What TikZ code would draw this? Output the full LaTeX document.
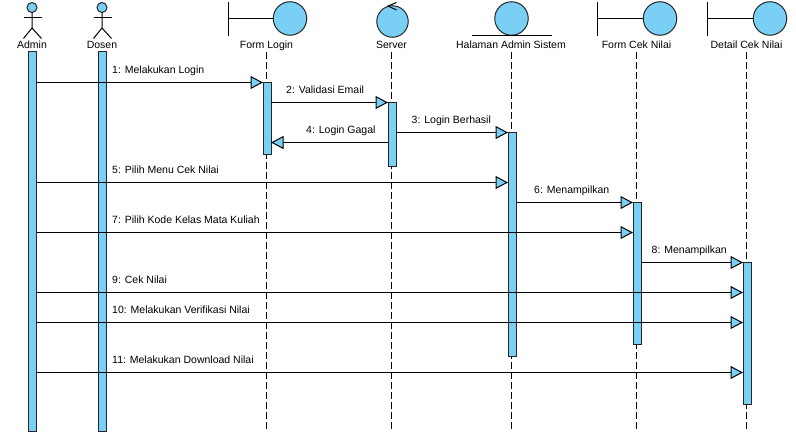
\documentclass[tikz,border=0pt]{standalone}
\usepackage{fontspec}
\setmainfont{Liberation Sans}
\usetikzlibrary{arrows.meta}
\definecolor{barblue}{HTML}{7ACFF5}
\tikzset{
	stroke/.style={line width=1pt, color=black},
	ball/.style={draw=black!85, line width=1pt, fill=barblue, circle, inner sep=0pt, outer sep=0pt},
	bar/.style={draw=black!85, line width=1pt, fill=barblue, minimum width=8pt, inner sep=0pt, outer sep=0pt},
	life/.style={line width=1pt, color=black, dash pattern=on 7pt off 3pt},
	msg/.style={line width=1pt, color=black, -{Triangle[length=12.5pt, width=13pt, fill=barblue, line width=1pt]}},
	headlabel/.style={font=\fontsize{10.5pt}{12pt}\selectfont, inner sep=0pt, text height=7.5pt, text depth=2pt},
	msgtext/.style={font=\fontsize{10.5pt}{12pt}\selectfont, inner sep=0pt, anchor=west, text height=7.5pt, text depth=2pt}
}

\begin{document}
\begin{tikzpicture}[x=1pt, y=-1pt]
	\useasboundingbox (0, 0) rectangle (796, 436);

	%%%%% HEADS %%%%%
	\node[headlabel] (admin) at (32, 46) {Admin};
	\node[headlabel] (dosen) at (102, 46) {Dosen};
	\node[headlabel] (login) at (266.5, 46) {Form Login};
	\node[headlabel] (server) at (391.5, 46) {Server};
	\node[headlabel] (halaman) at (511, 46) {Halaman Admin Sistem};
	\node[headlabel] (cek) at (636.5, 46) {Form Cek Nilai};
	\node[headlabel] (detail) at (746.5, 46) {Detail Cek Nilai};

	% actors
	\node[ball, minimum size=10pt] (adminhead) at (32, 7.5) {};
	\draw[stroke] (adminhead.south) -- (32, 28) -- (23.5, 38.5);
	\draw[stroke] (32, 28) -- (41.5, 38.5);
	\draw[stroke] (23.5, 18) -- (41.5, 18);

	\node[ball, minimum size=10pt] (dosenhead) at (102, 7.5) {};
	\draw[stroke] (dosenhead.south) -- (102, 28) -- (93.5, 38.5);
	\draw[stroke] (102, 28) -- (111.5, 38.5);
	\draw[stroke] (93.5, 18) -- (111.5, 18);

	% boundaries
	\node[ball, minimum size=33.5pt] (loginball) at (290, 18.5) {};
	\draw[stroke] (228, 2) -- (228, 36);
	\draw[stroke] (228, 18.5) -- (loginball.west);

	\node[ball, minimum size=33.5pt] (cekball) at (660, 18.5) {};
	\draw[stroke] (597.5, 2) -- (597.5, 36);
	\draw[stroke] (597.5, 18.5) -- (cekball.west);

	\node[ball, minimum size=33.5pt] (detailball) at (770, 18.5) {};
	\draw[stroke] (707.5, 2) -- (707.5, 36);
	\draw[stroke] (707.5, 18.5) -- (detailball.west);

	% control
	\node[ball, minimum size=31.5pt] (serverball) at (392.5, 21.5) {};
	\draw[stroke] (396.5, 2.5) -- (388, 6) -- (396.5, 10);

	% entity
	\node[ball, minimum size=33.5pt] (halamanball) at (511.5, 18.5) {};
	\draw[stroke] (471.5, 35.5) -- (551.5, 35.5);

	%%%%% LIFELINES %%%%%
	\coordinate (loginstart) at (266.5, 52);
	\coordinate (serverstart) at (391.5, 52);
	\coordinate (halamanstart) at (511.5, 52);
	\coordinate (cekstart) at (636.5, 52);
	\coordinate (detailstart) at (746.5, 52);
	\coordinate (loginend) at (266.5, 432);
	\coordinate (serverend) at (391.5, 432);
	\coordinate (halamanend) at (511.5, 432);
	\coordinate (cekend) at (636.5, 432);
	\coordinate (detailend) at (746.5, 432);
	\draw[life] (loginstart) -- (loginend);
	\draw[life] (serverstart) -- (serverend);
	\draw[life] (halamanstart) -- (halamanend);
	\draw[life] (cekstart) -- (cekend);
	\draw[life] (detailstart) -- (detailend);

	%%%%% BARS %%%%%
	\node[bar, minimum height=379pt] (adminbar) at (32.5, 241.5) {};
	\node[bar, minimum height=379pt] (dosenbar) at (102.5, 241.5) {};
	\node[bar, minimum height=72pt] (loginbar) at (267, 118.5) {};
	\node[bar, minimum height=64pt] (serverbar) at (392, 134.5) {};
	\node[bar, minimum height=224pt] (halamanbar) at (512, 244.5) {};
	\node[bar, minimum height=142pt] (cekbar) at (637, 273.5) {};
	\node[bar, minimum height=142pt] (detailbar) at (747, 333.5) {};

	%%%%% MESSAGES %%%%%
	\coordinate (m1) at (0, 82.5);
	\coordinate (m2) at (0, 102.5);
	\coordinate (m3) at (0, 132.5);
	\coordinate (m4) at (0, 142.5);
	\coordinate (m5) at (0, 182.5);
	\coordinate (m6) at (0, 202.5);
	\coordinate (m7) at (0, 232.5);
	\coordinate (m8) at (0, 262.5);
	\coordinate (m9) at (0, 292.5);
	\coordinate (m10) at (0, 322.5);
	\coordinate (m11) at (0, 372.5);

	\draw[msg] (adminbar.east |- m1) -- (loginbar.west |- m1);
	\draw[msg] (loginbar.east |- m2) -- (serverbar.west |- m2);
	\draw[msg] (serverbar.east |- m3) -- (halamanbar.west |- m3);
	\draw[msg] (serverbar.west |- m4) -- (loginbar.east |- m4);
	\draw[msg] (adminbar.east |- m5) -- (halamanbar.west |- m5);
	\draw[msg] (halamanbar.east |- m6) -- (cekbar.west |- m6);
	\draw[msg] (adminbar.east |- m7) -- (cekbar.west |- m7);
	\draw[msg] (cekbar.east |- m8) -- (detailbar.west |- m8);
	\draw[msg] (adminbar.east |- m9) -- (detailbar.west |- m9);
	\draw[msg] (adminbar.east |- m10) -- (detailbar.west |- m10);
	\draw[msg] (adminbar.east |- m11) -- (detailbar.west |- m11);

	\node[msgtext] (t1) at (112, 71) {1: Melakukan Login};
	\node[msgtext] (t2) at (286, 91) {2: Validasi Email};
	\node[msgtext] (t3) at (411.5, 121) {3: Login Berhasil};
	\node[msgtext] (t4) at (306, 131) {4: Login Gagal};
	\node[msgtext] (t5) at (112, 171) {5: Pilih Menu Cek Nilai};
	\node[msgtext] (t6) at (534, 191) {6: Menampilkan};
	\node[msgtext] (t7) at (112, 221) {7: Pilih Kode Kelas Mata Kuliah};
	\node[msgtext] (t8) at (651.5, 251) {8: Menampilkan};
	\node[msgtext] (t9) at (112, 281) {9: Cek Nilai};
	\node[msgtext] (t10) at (112, 311) {10: Melakukan Verifikasi Nilai};
	\node[msgtext] (t11) at (112, 361) {11: Melakukan Download Nilai};
\end{tikzpicture}
\end{document}
